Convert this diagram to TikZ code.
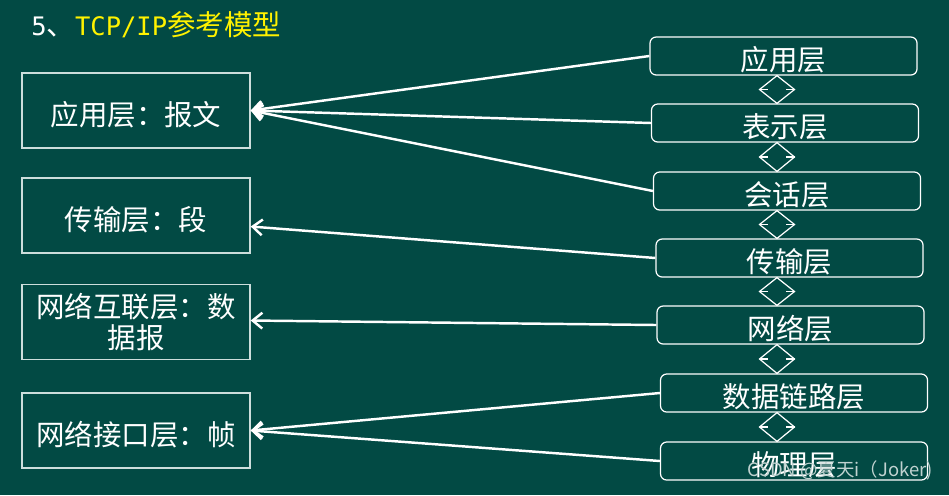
\documentclass[tikz,border=0pt]{standalone}
\usepackage{fontspec}
\setmainfont{Noto Sans CJK SC}
\newfontfamily\monofont{DejaVu Sans Mono}
\usetikzlibrary{arrows.meta, positioning, calc}

\definecolor{board}{RGB}{2,74,68}
\definecolor{edgegray}{RGB}{205,222,220}

\begin{document}
\begin{tikzpicture}[
  x=0.02cm, y=-0.02cm,
  every node/.style = {font=\fontsize{16.2pt}{17.6pt}\selectfont, text=white},
  lowtext/.style = {text height=16.6pt, text depth=0pt},
  leftbox/.style = {draw=edgegray, line width=0.8pt, minimum width=228*0.02cm, minimum height=75*0.02cm, inner sep=0pt, align=center},
  layerbox/.style = {draw=white, line width=0.7pt, rounded corners=3.5pt, minimum width=267*0.02cm, minimum height=38*0.02cm, inner sep=0pt, lowtext},
  arrow/.style = {white, line width=1.4pt, -{Straight Barb[length=5.5pt, width=9pt, line width=1.4pt]}},
  updown/.style = {draw=white, line width=0.7pt},
  watermark/.style = {text=white!75!board, font=\fontsize{10.5pt}{12pt}\selectfont}
]

% Background
\useasboundingbox (0,0) rectangle (949,495);
\fill[board] (0,0) rectangle (949,495);

% Title
\node[anchor=west, inner sep=0pt] (title) at (31,25)
  {{\monofont\fontsize{14.5pt}{16pt}\selectfont 5}、\textcolor{yellow}{{\monofont\fontsize{14.5pt}{16pt}\selectfont TCP/IP}参考模型}};

% TCP/IP layers (left)
\node[leftbox, lowtext] (app)  at (136,110.5) {应用层：报文};
\node[leftbox, lowtext] (tran) at (136,215.5) {传输层：段};
\node[leftbox] (net)  at (136,322) {网络互联层：数\\据报};
\node[leftbox, lowtext] (link) at (136,430.5) {网络接口层：帧};

% OSI layers (right)
\node[layerbox] (r1) at (783.5,56) {应用层};
\node[layerbox] (r2) at (785,123)  {表示层};
\node[layerbox] (r3) at (787,191)  {会话层};
\node[layerbox] (r4) at (789.5,258) {传输层};
\node[layerbox] (r5) at (790.5,325) {网络层};
\node[layerbox] (r6) at (794,393)  {数据链路层};
\node[layerbox] (r7) at (794,461)  {物理层};

% Up-down arrows between the layers
\coordinate (axis) at (777,0);
\foreach \i/\j in {1/2, 2/3, 3/4, 4/5, 5/6, 6/7} {
  \coordinate (dt) at (axis |- r\i.south);
  \coordinate (db) at (axis |- r\j.north);
  \coordinate (dm) at ($(dt)!0.5!(db)$);
  \draw[updown] (dt) -- ($(dm)+(17.5,0)$) -- (db) -- ($(dm)+(-17.5,0)$) -- cycle;
  \draw[updown] ($(dm)+(-17.5,0)$) -- ($(dm)+(-9,0)$);
  \draw[updown] ($(dm)+(17.5,0)$) -- ($(dm)+(9,0)$);
}

% Mapping arrows
\draw[arrow] (r1.west) -- (app.east);
\draw[arrow] (r2.west) -- (app.east);
\draw[arrow] (r3.west) -- (app.east);
\draw[arrow] (r4.west) -- ($(tran.east)+(0,11)$);
\draw[arrow] (r5.west) -- ($(net.east)+(0,-1.5)$);
\draw[arrow] (r6.west) -- (link.east);
\draw[arrow] (r7.west) -- (link.east);

% Watermark
\node[watermark, anchor=east, inner sep=0pt] (wm) at (933,470) {CSDN @夏天i（Joker)};

\end{tikzpicture}
\end{document}
